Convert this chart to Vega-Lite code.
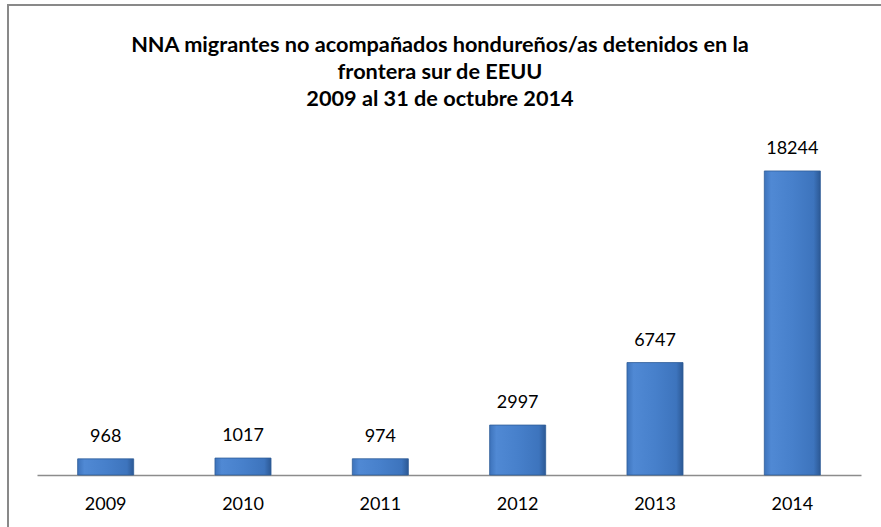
{
  "$schema": "https://vega.github.io/schema/vega-lite/v6.json",
  "autosize": "none",
  "padding": {"left": 8, "top": 5, "right": 0, "bottom": 0},
  "width": 882,
  "height": 530,
  "background": "white",
  "data": {"values": [
    {"year": "2009", "value": 968},
    {"year": "2010", "value": 1017},
    {"year": "2011", "value": 974},
    {"year": "2012", "value": 2997},
    {"year": "2013", "value": 6747},
    {"year": "2014", "value": 18244}
  ]},
  "title": {
    "text": ["NNA migrantes no acompañados hondureños/as detenidos en la", "frontera sur de EEUU", "2009 al 31 de octubre 2014"],
    "font": "Lato",
    "fontSize": 21.7,
    "fontWeight": "bold",
    "lineHeight": 27,
    "color": "black",
    "anchor": "middle",
    "frame": "group",
    "baseline": "alphabetic",
    "offset": -123,
    "dx": -9
  },
  "encoding": {
    "x": {
      "field": "year", "type": "ordinal", "sort": null,
      "scale": {"range": [29, 853], "paddingInner": 0.592, "paddingOuter": 0.296},
      "axis": {
        "title": null, "labelAngle": 0, "ticks": false, "offset": -60,
        "domainColor": "#8c8c8c", "domainWidth": 1.5,
        "labelFont": "Lato", "labelFontSize": 18, "labelColor": "black", "labelPadding": 20
      }
    },
    "y": {
      "field": "value", "type": "quantitative",
      "scale": {"domain": [0, 20000], "range": [470, 136.7], "nice": false, "zero": true},
      "axis": null
    }
  },
  "layer": [
    {
      "mark": {
        "type": "bar",
        "stroke": "#2f5d98",
        "strokeWidth": 0.8,
        "color": {
          "gradient": "linear", "x1": 0, "x2": 1, "y1": 0, "y2": 0,
          "stops": [
            {"offset": 0, "color": "#3d73bb"},
            {"offset": 0.12, "color": "#5089d4"},
            {"offset": 0.5, "color": "#4780cb"},
            {"offset": 0.88, "color": "#3d74bd"},
            {"offset": 1, "color": "#2c5995"}
          ]
        }
      }
    },
    {
      "mark": {"type": "text", "dy": -17, "baseline": "alphabetic", "font": "Lato", "fontSize": 18, "color": "black"},
      "encoding": {"text": {"field": "value", "type": "quantitative", "format": "d"}}
    }
  ],
  "config": {
    "view": {"stroke": "#898989", "strokeWidth": 2}
  }
}
